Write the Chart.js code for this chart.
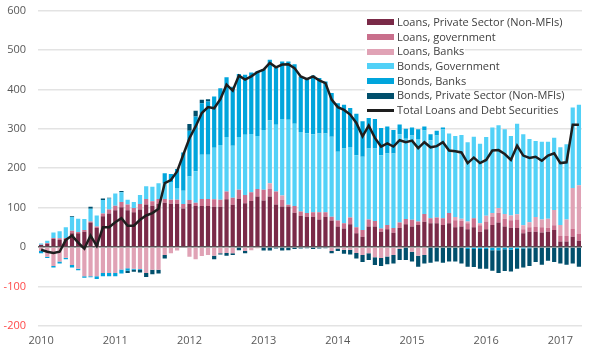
<!DOCTYPE html>
<html>
<head>
<meta charset="utf-8">
<script src="https://cdn.jsdelivr.net/npm/chart.js@4.4.1/dist/chart.umd.min.js"></script>
<style>
  body { margin: 0; background: #fff; }
  #wrap { position: relative; width: 591px; height: 356px; overflow: hidden; }
  #loansChart { display: block; margin-top: -8px; }
  #legend {
    position: absolute; left: 365px; top: 15px; width: 100px; height: 103px;
    background: #fff; font-family: "Open Sans", sans-serif; font-size: 11px; color: #404040;
  }
  #legend div { height: 14.7px; line-height: 14.7px; white-space: nowrap; display: flex; align-items: center; }
  #legend span.sw { flex: 0 0 27px; height: 6px; margin-right: 3px; margin-left: 2px; }
  #legend span.ln { flex: 0 0 27px; height: 2.5px; margin-right: 3px; margin-left: 2px; }
</style>
</head>
<body>
<div id="wrap">
  <canvas id="loansChart" width="591" height="364"></canvas>
  <div id="legend"></div>
</div>
<script>
// years shown on the axis, one bar per month from Jan 2010 to Apr 2017
const years = ['2010', '2011', '2012', '2013', '2014', '2015', '2016', '2017'];
const monthsInLast = 4;

const loansPrivate = [5,8,20,18,20,35,35,39,62,48,78,85, 93,101,93,88,95,108,105,110,112,110,110,98,
  110,104,104,104,102,102,121,107,122,111,117,128, 118,128,108,103,103,87,79,77,77,70,77,67,
  52,47,58,35,26,52,52,39,45,36,48,58, 52,56,64,60,60,56,60,50,52,45,50,39,
  45,56,62,52,49,48,35,39,39,37,39,43, 14,14,26,16];
const loansGov = [1,2,3,4,3,6,3,4,3,4,7,10, 12,13,15,11,14,14,11,12,10,10,10,11,
  9,8,18,18,19,18,20,18,23,21,22,19, 27,19,33,16,4,17,11,9,11,18,11,10,
  15,13,17,15,17,18,14,8,11,12,14,13, 17,9,20,13,15,17,26,18,14,15,23,16,
  20,20,25,20,19,22,10,11,12,13,10,12, 14,14,20,17];
const loansBanks = [-10,-25,-48,-37,-27,-46,-55,-74,-74,-74,-66,-66, -66,-57,-54,-55,-56,-66,-58,-58,-20,-16,-9,0,
  -25,-31,-23,-20,-22,-16,-15,-16,0,-10,-8,-3, 0,15,0,12,0,0,0,0,0,0,0,-10,
  -4,-7,-7,-15,-20,-16,-26,-28,-24,-20,-5,0, -12,-22,-20,0,0,0,0,8,6,5,0,5,
  14,10,12,12,12,13,10,13,25,20,23,39, 28,42,104,124];
const bondsGov = [3,6,14,18,27,35,34,28,32,28,34,28, 31,25,12,15,23,32,37,40,40,45,30,34,
  60,80,112,112,131,139,138,132,134,153,148,135, 152,159,169,194,216,209,202,203,198,200,200,203,
  175,190,179,183,186,180,184,186,181,189,224,204, 214,209,212,198,208,225,202,206,212,201,207,202,
  200,217,210,215,202,230,231,211,193,197,195,183, 197,191,204,204];
const bondsBanks = [-6,-3,-4,-5,-4,-6,-4,-4,-3,-7,-8,-8, -8,-10,-6,-3,-2,0,0,0,25,20,48,97,
  116,139,131,135,130,144,152,150,160,152,156,164, 155,154,146,146,148,151,141,140,149,141,132,111,
  123,111,99,105,90,92,75,69,69,60,25,25, 20,25,10,15,12,5,0,0,0,-5,-5,-5,
  -5,-8,-8,-6,-7,-5,-4,-3,0,0,0,0, 0,0,0,0];
const bondsPrivate = [0,0,0,0,0,2,0,0,5,0,4,2, 0,3,-6,-5,-7,-10,-11,-9,-9,0,0,0,
  17,15,9,6,-9,-3,-7,-4,-8,-6,0,0, -9,-9,-4,-9,-8,-5,-4,-3,-5,-4,-3,-6,
  -6,-10,-12,-14,-18,-17,-20,-20,-20,-22,-28,-33, -25,-28,-22,-40,-37,-40,-37,-37,-42,-45,-46,-50,
  -50,-52,-58,-55,-55,-50,-48,-45,-38,-45,-35,-38, -42,-45,-42,-50];
const totalLoansDebt = [-7,-12,-15,-12,18,29,11,-4,29,3,50,50, 63,73,54,54,69,80,86,97,162,170,192,234,
  276,306,340,355,352,375,412,397,435,425,433,444, 450,467,456,463,464,454,433,426,433,423,416,374,
  355,348,336,315,281,308,277,255,263,255,271,266, 270,251,266,253,256,266,245,243,240,213,227,213,
  221,245,246,236,221,257,232,226,229,219,232,238, 213,215,310,310];

const yTicks = [-200, -100, 0, 100, 200, 300, 400, 500, 600];

const labels = [];
years.forEach((y, k) => {
  const n = k === years.length - 1 ? monthsInLast : 12;
  for (let m = 0; m < n; m++) labels.push(m === 0 ? y : '');
});

function barSet(label, data, color){
  return { type: 'bar', label: label, data: data, backgroundColor: color, stack: 'parts',
           barPercentage: 0.68, categoryPercentage: 1 };
}

const ctx = document.getElementById('loansChart').getContext('2d');
const chart = new Chart(ctx, {
  data: {
    labels: labels,
    datasets: [
      { type: 'line', label: 'Total Loans and Debt Securities', data: totalLoansDebt, borderColor: '#1e1e1e',
        borderWidth: 2.5, pointRadius: 0, tension: 0, stack: 'total', order: 0 },
      barSet('Loans, Private Sector (Non-MFIs)', loansPrivate, '#7a2a48'),
      barSet('Loans, government', loansGov, '#c96f8c'),
      barSet('Loans, Banks', loansBanks, '#e0a2b5'),
      barSet('Bonds, Government', bondsGov, '#52d1f7'),
      barSet('Bonds, Banks', bondsBanks, '#00a5dc'),
      barSet('Bonds, Private Sector (Non-MFIs)', bondsPrivate, '#014f6c')
    ]
  },
  options: {
    responsive: false,
    animation: false,
    layout: { padding: { left: 0, right: 9, top: 2, bottom: 1 } },
    plugins: { legend: { display: false }, tooltip: { enabled: false } },
    scales: {
      x: {
        stacked: true,
        grid: { display: false, drawTicks: false },
        border: { display: false },
        ticks: { autoSkip: false, maxRotation: 0, padding: 8, color: '#595959',
                 font: { family: 'Open Sans', size: 11 } }
      },
      y: {
        stacked: true,
        min: -200, max: 600,
        afterBuildTicks: axis => { axis.ticks = yTicks.map(v => ({ value: v })); },
        afterFit: axis => { axis.width = 38; },
        grid: { drawTicks: false, lineWidth: 1.5,
                color: c => c.tick && c.tick.value === 0 ? '#595959' : '#e3e3e3' },
        border: { display: false },
        ticks: { padding: 12, font: { family: 'Open Sans', size: 11 },
                 color: c => c.tick.value < 0 ? '#ff4a4a' : '#595959' }
      }
    }
  }
});

// legend box overlapping the plot, in the order of the original
const legendEl = document.getElementById('legend');
const order = [1, 2, 3, 4, 5, 6, 0];
order.forEach(i => {
  const ds = chart.data.datasets[i];
  const row = document.createElement('div');
  const sw = document.createElement('span');
  sw.className = ds.type === 'line' ? 'ln' : 'sw';
  sw.style.background = ds.type === 'line' ? ds.borderColor : ds.backgroundColor;
  row.appendChild(sw);
  row.appendChild(document.createTextNode(ds.label));
  legendEl.appendChild(row);
});
</script>
</body>
</html>
